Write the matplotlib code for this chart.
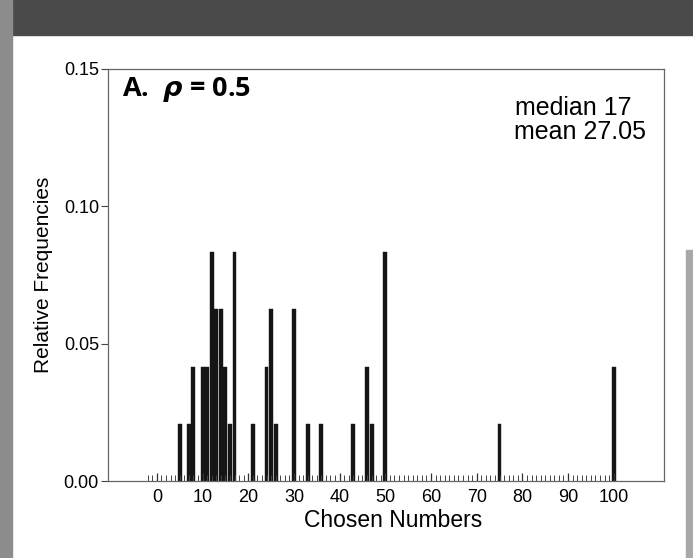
import numpy as np
import matplotlib.pyplot as plt
from matplotlib.patches import Rectangle
from matplotlib.ticker import FixedLocator

# chosen numbers and how many of the 48 subjects picked each one
numbers = [5, 7, 8, 10, 11, 12, 13, 14, 15, 16, 17, 21, 24, 25, 26,
           30, 33, 36, 43, 46, 47, 50, 75, 100]
counts = [1, 1, 2, 2, 2, 4, 3, 3, 2, 1, 4, 1, 2, 3, 1,
          3, 1, 1, 1, 2, 1, 4, 1, 2]
n_total = 48
rel_freq = np.array(counts) / n_total

y_ticks = [0.00, 0.05, 0.10, 0.15]
x_ticks = list(range(0, 101, 10))

plt.rcParams['font.family'] = ['Liberation Sans', 'DejaVu Sans']

fig = plt.figure(figsize=(6.93, 5.58), dpi=100)
fig.patch.set_facecolor('white')

# scanned page background bits
fig.patches.append(Rectangle((0, 1 - 35 / 558), 1, 35 / 558, transform=fig.transFigure,
                             color='#4a4a4a', zorder=0))
fig.patches.append(Rectangle((0, 0), 12 / 693, 1, transform=fig.transFigure,
                             color='#8c8c8c', zorder=0))
fig.patches.append(Rectangle((686 / 693, 0), 7 / 693, 1 - 250 / 558, transform=fig.transFigure,
                             color='#a8a8a8', zorder=0))

ax = fig.add_axes([108 / 693, 1 - 481 / 558, 556 / 693, 412 / 558])
ax.bar(numbers, rel_freq, width=0.85, color='#151515', edgecolor='#151515', linewidth=0.3)

ax.set_xlim(-10.7, 111)
ax.set_ylim(0, 0.15)

ax.xaxis.set_major_locator(FixedLocator(x_ticks))
ax.xaxis.set_minor_locator(FixedLocator(list(range(-2, 101))))
ax.yaxis.set_major_locator(FixedLocator(y_ticks))
ax.set_yticklabels(['%.2f' % v for v in y_ticks])

ax.tick_params(axis='x', which='major', direction='in', length=6, width=0.9,
               color='#333333', labelsize=13, pad=6)
ax.tick_params(axis='x', which='minor', direction='in', length=4.5, width=0.7, color='#444444')
ax.tick_params(axis='y', which='major', direction='out', length=5, width=0.8,
               color='#444444', labelsize=13, pad=1.5)

for s in ax.spines.values():
    s.set_color('#666666')
    s.set_linewidth(0.9)

ax.set_xlabel('Chosen Numbers', fontsize=16.5)
ax.xaxis.set_label_coords(0.513, -0.068)
ax.set_ylabel('Relative Frequencies', fontsize=15, labelpad=8)

ax.text(0.025, 0.934, r'A.  $\boldsymbol{\rho}$ = 0.5', transform=ax.transAxes,
        fontsize=19.5, fontweight='bold', va='baseline', ha='left',
        family=['Open Sans', 'DejaVu Sans'])
ax.text(0.732, 0.888, 'median 17', transform=ax.transAxes,
        fontsize=18, va='baseline', ha='left')
ax.text(0.730, 0.830, 'mean 27.05', transform=ax.transAxes,
        fontsize=18, va='baseline', ha='left')

fig.savefig('out.png', dpi=100, facecolor=fig.get_facecolor())
